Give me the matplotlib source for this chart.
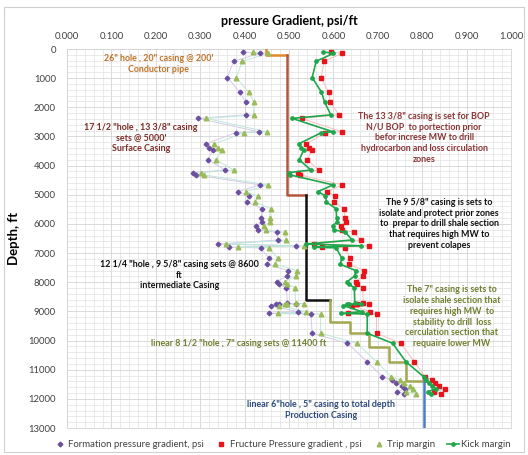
import numpy as np
import matplotlib
matplotlib.use('Agg')
import matplotlib.pyplot as plt
from matplotlib.lines import Line2D
from matplotlib.patches import Rectangle

plt.rcParams['font.family'] = ['Lato', 'DejaVu Sans']

# depth, ft and gradients, psi/ft
depth = [100, 150, 420, 980, 1480, 1820, 2260, 2380, 2840, 2870,
         3250, 3400, 3450, 3800, 4150, 4240, 4320, 4660, 4890, 5040,
         5250, 5480, 5800, 5920, 6070, 6200, 6290, 6550, 6690, 6750,
         6800, 6820, 7180, 7380, 7600, 7780, 7980, 8060, 8190, 8720,
         8740, 8750, 8760, 8800, 9010, 9070, 9090, 9750, 10090, 10725,
         11240, 11350, 11470, 11560, 11650, 11760, 11820]
formation = [0.397, 0.434, 0.375, 0.361, 0.389, 0.402, 0.402, 0.296, 0.432, 0.380,
             0.313, 0.320, 0.329, 0.317, 0.356, 0.283, 0.290, 0.434, 0.384, 0.410,
             0.405, 0.440, 0.437, 0.440, 0.425, 0.429, 0.472, 0.475, 0.339, 0.515,
             0.365, 0.436, 0.455, 0.450, 0.498, 0.496, 0.472, 0.477, 0.494, 0.496,
             0.515, 0.471, 0.477, 0.459, 0.519, 0.455, 0.549, 0.552, 0.631, 0.676,
             0.710, 0.731, 0.740, 0.754, 0.760, 0.744, 0.759]
fracture = [0.595, 0.619, 0.579, 0.572, 0.589, 0.593, 0.612, 0.528, 0.619, 0.582,
            0.539, 0.545, 0.552, 0.541, 0.567, 0.520, 0.525, 0.620, 0.586, 0.603,
            0.601, 0.624, 0.626, 0.628, 0.617, 0.620, 0.646, 0.661, 0.556, 0.680,
            0.574, 0.625, 0.638, 0.634, 0.669, 0.667, 0.650, 0.654, 0.666, 0.667,
            0.680, 0.650, 0.654, 0.641, 0.683, 0.633, 0.697, 0.697, 0.751, 0.782,
            0.806, 0.822, 0.828, 0.838, 0.851, 0.827, 0.842]
trip = [0.418, 0.452, 0.395, 0.381, 0.409, 0.421, 0.420, 0.314, 0.450, 0.399,
        0.332, 0.340, 0.348, 0.336, 0.375, 0.302, 0.309, 0.453, 0.403, 0.429,
        0.424, 0.459, 0.456, 0.457, 0.444, 0.448, 0.491, 0.494, 0.357, 0.534,
        0.384, 0.455, 0.474, 0.469, 0.517, 0.515, 0.491, 0.496, 0.513, 0.515,
        0.534, 0.490, 0.496, 0.478, 0.538, 0.474, 0.571, 0.571, 0.652, 0.697,
        0.730, 0.750, 0.759, 0.772, 0.778, 0.764, 0.785]
kick = [0.577, 0.600, 0.561, 0.552, 0.573, 0.580, 0.594, 0.507, 0.599, 0.573,
        0.522, 0.527, 0.533, 0.523, 0.549, 0.499, 0.503, 0.599, 0.565, 0.582,
        0.584, 0.606, 0.607, 0.609, 0.598, 0.601, 0.627, 0.642, 0.537, 0.661,
        0.555, 0.606, 0.619, 0.615, 0.650, 0.648, 0.631, 0.635, 0.647, 0.648,
        0.661, 0.631, 0.635, 0.622, 0.664, 0.616, 0.676, 0.676, 0.733, 0.763,
        0.803, 0.808, 0.815, 0.822, 0.830, 0.812, 0.820]

# casing setting depths drawn as step lines (gradient, depth)
conductor_x = [0.449, 0.449, 0.496]
conductor_d = [0, 200, 200]
surface_x = [0.496, 0.496, 0.537]
surface_d = [200, 5000, 5000]
intermediate_x = [0.537, 0.537, 0.593]
intermediate_d = [5000, 8600, 8600]
liner7_x = [0.593, 0.593, 0.637, 0.637, 0.680, 0.680, 0.725, 0.725, 0.763, 0.763, 0.804]
liner7_d = [8600, 9350, 9350, 9750, 9750, 10210, 10210, 10725, 10725, 11400, 11400]
liner5_x = [0.804, 0.804]
liner5_d = [11400, 13000]

fig = plt.figure(figsize=(5.28, 4.55), dpi=100)
ax = fig.add_axes([0.127, 0.0593, 0.841, 0.833])

# faint connecting lines behind the markers
ax.plot(formation, depth, color='#d6cbea', lw=0.7, zorder=2)
ax.plot(trip, depth, color='#bde8d8', lw=0.7, zorder=2)
ax.plot(fracture, depth, color='#f8bcbc', lw=0.7, zorder=2)

ax.plot(conductor_x, conductor_d, color='#e58a2c', lw=1.8, zorder=3)
ax.plot(surface_x, surface_d, color='#b5553f', lw=1.8, zorder=3)
ax.plot(intermediate_x, intermediate_d, color='#111111', lw=1.8, zorder=3)
ax.plot(liner7_x, liner7_d, color='#a3a850', lw=1.8, zorder=3)
ax.plot(liner5_x, liner5_d, color='#4a7ec8', lw=1.8, zorder=3)

ax.plot(formation, depth, ls='none', marker='D', ms=2.4, color='#6b4fa0', zorder=4)
ax.plot(fracture, depth, ls='none', marker='s', ms=3.3, color='#e8141b', zorder=4)
ax.plot(trip, depth, ls='none', marker='^', ms=3.3, color='#9bbb59', zorder=4)
ax.plot(kick, depth, color='#1fa64a', lw=1.2, marker='o', ms=2.4, zorder=5)

ax.set_xlim(0, 1)
ax.set_ylim(13000, 0)
ax.set_xticks(np.arange(0, 1.001, 0.1))
ax.set_xticks(np.arange(0, 1.001, 0.02), minor=True)
ax.set_yticks(np.arange(0, 13001, 1000))
ax.set_yticks(np.arange(0, 13001, 200), minor=True)
ax.xaxis.set_major_formatter(matplotlib.ticker.FormatStrFormatter('%.3f'))
ax.xaxis.tick_top()
ax.xaxis.set_label_position('top')
ax.tick_params(which='both', length=0, labelsize=6.8, colors='#404040')
ax.tick_params(axis='x', pad=6)
ax.tick_params(axis='y', pad=8)
ax.grid(which='major', color='#d4d4d4', lw=0.6)
ax.grid(which='minor', color='#e2e2e2', lw=0.5)
ax.set_axisbelow(True)
for s in ax.spines.values():
    s.set_color('#d4d4d4')
    s.set_linewidth(0.6)

ax.set_xlabel('pressure Gradient, psi/ft', fontsize=9, fontweight='bold', labelpad=5)
ax.set_ylabel('Depth, ft', fontsize=9.5, fontweight='bold', labelpad=6)

fs = 6.4
kw = dict(ha='center', va='center', fontsize=fs, fontweight='bold', linespacing=1.25)
ax.text(0.207, 510, '26" hole , 20" casing @ 200\'\nConductor pipe', color='#c0732a', **kw)
ax.text(0.166, 3050, '17 1/2 "hole , 13 3/8" casing\nsets @ 5000\'\nSurface Casing',
        color='#7b2d26', **kw)
ax.text(0.804, 3050, 'The 13 3/8" casing is set for BOP\nN/U BOP  to portection prior\n'
        'befor increse MW to drill\nhydrocarbon and loss circulation\nzones',
        color='#8b3535', **kw)
ax.text(0.838, 6000, 'The 9 5/8" casing is sets to\nisolate and protect prior zones\n'
        'to  prepar to drill shale section\nthat requires high MW to\nprevent colapes',
        color='#111111', **kw)
ax.text(0.253, 7760, '12 1/4 "hole , 9 5/8" casing sets @ 8600\nft\nintermediate Casing',
        color='#111111', **kw)
ax.text(0.866, 9180, 'The 7" casing is sets to\nisolate shale section that\nrequires high MW  to\n'
        'stability to drill  loss\ncerculation section that\nrequaire lower MW',
        color='#6e7f2e', **kw)
ax.text(0.387, 10090, 'linear 8 1/2 "hole , 7" casing sets @ 11400 ft', color='#6e7f2e', **kw)
ax.text(0.572, 12380, 'linear 6"hole , 5" casing to total depth\nProduction Casing',
        color='#2c4a7c', **kw)

handles = [
    Line2D([], [], ls='none', marker='D', ms=2.4, color='#6b4fa0'),
    Line2D([], [], ls='none', marker='s', ms=3.3, color='#e8141b'),
    Line2D([], [], ls='none', marker='^', ms=3.3, color='#9bbb59'),
    Line2D([], [], color='#1fa64a', lw=1.2, marker='o', ms=2.4),
]
labels = ['Formation pressure gradient, psi', 'Fructure Pressure gradient , psi',
          'Trip margin', 'Kick margin']
fig.legend(handles, labels, loc='center', bbox_to_anchor=(0.535, 0.022), ncol=4,
           frameon=False, fontsize=6.9, handlelength=1.2, handletextpad=0.3,
           columnspacing=1.2, labelcolor='#404040')

fig.patches.append(Rectangle((0.008, 0.006), 0.984, 0.978, transform=fig.transFigure,
                             fill=False, edgecolor='#d0d0d0', lw=0.8))

fig.savefig('out.png', dpi=100)
